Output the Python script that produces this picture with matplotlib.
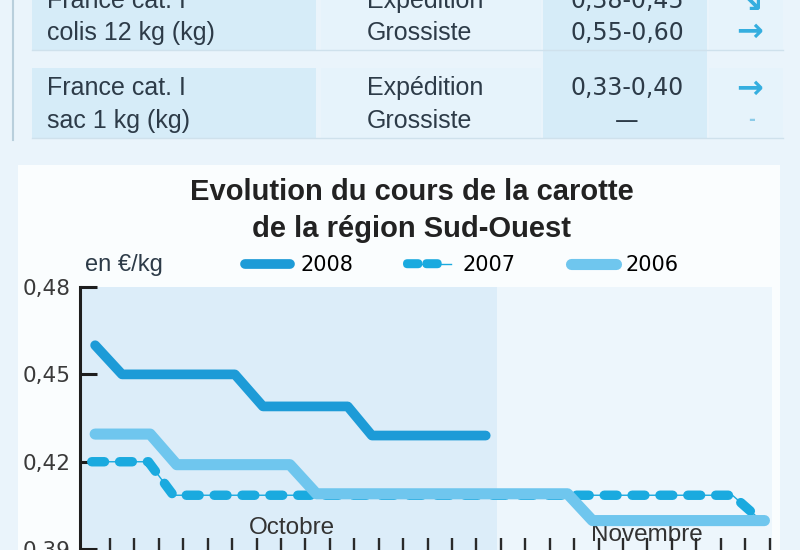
import matplotlib
matplotlib.use("Agg")
import matplotlib.pyplot as plt
from matplotlib.patches import Rectangle, FancyBboxPatch
from matplotlib.lines import Line2D
from matplotlib.legend_handler import HandlerBase

# ============================================================
# DATA
# ============================================================

table_products = [["France cat. I", "colis 12 kg (kg)"],
                  ["France cat. I", "sac 1 kg (kg)"]]
table_stages   = [["Expédition", "Grossiste"],
                  ["Expédition", "Grossiste"]]
table_prices   = [["0,38-0,45", "0,55-0,60"],
                  ["0,33-0,40", "—"]]
table_trends   = [["↘", "→"],
                  ["→", "-"]]

title_lines = ["Evolution du cours de la carotte", "de la région Sud-Ouest"]
unit_label  = "en €/kg"
months      = ["Octobre", "Novembre"]
month_edges = [-0.23, 16.83, 28.1]
day_ticks   = list(range(1, 29))
y_ticks     = [0.39, 0.42, 0.45, 0.48]
y_labels    = ["0,39", "0,42", "0,45", "0,48"]
series      = ["2008", "2007", "2006"]

x_2008 = [0.39, 1.49, 6.11, 7.26, 10.73, 11.72, 16.38]
y_2008 = [0.460, 0.450, 0.450, 0.439, 0.439, 0.429, 0.429]

x_2007 = [0.25, 2.57, 3.59, 26.48, 27.67]
y_2007 = [0.420, 0.420, 0.4085, 0.4085, 0.3997]

x_2006 = [0.39, 2.64, 3.73, 8.36, 9.45, 19.73, 20.75, 27.79]
y_2006 = [0.4295, 0.4295, 0.419, 0.419, 0.409, 0.409, 0.3998, 0.3998]

# ============================================================
# STYLE
# ============================================================

BG       = "#eaf4fb"
PANEL    = "#fafdfe"
CELL_A   = "#d6ecf8"
CELL_B   = "#e6f3fb"
OCT_BG   = "#dcedf9"
NOV_BG   = "#edf6fc"
INK      = "#2d3b48"
C2008    = "#1d9bd7"
C2007    = "#1aaadf"
C2006    = "#6fc6ee"
ARROW    = "#35aedf"

plt.rcParams["font.family"] = ["Liberation Sans", "DejaVu Sans"]

W, H = 800, 550

fig = plt.figure(figsize=(W / 100, H / 100), dpi=100)
fig.patch.set_facecolor(BG)

# pixel-space background layer (table + panel)
bg = fig.add_axes([0, 0, 1, 1])
bg.set_xlim(0, W)
bg.set_ylim(H, 0)
bg.axis("off")

# ---- price table ----
col_x    = [(32, 316), (321, 541), (543, 707), (709, 783)]
row_y    = [(-5, 50), (68, 138)]
baseline = [[8, 40], [95, 128]]
arrow_y  = [[3, 32], [89, 120]]

bg.plot([13, 13], [0, 140], color="#b9cfdc", lw=1.5)
for (y0, y1) in row_y:
    for k, (x0, x1) in enumerate(col_x):
        if k == 2:
            continue
        fc = CELL_A if k == 0 else CELL_B
        bg.add_patch(Rectangle((x0, y0), x1 - x0, y1 - y0, fc=fc, lw=0))
    bg.plot([col_x[0][0], col_x[-1][1]], [y1, y1], color="#cfe1ec", lw=1)
bg.add_patch(Rectangle((col_x[2][0], -5), col_x[2][1] - col_x[2][0], 143,
                       fc=CELL_A, lw=0))

for r in range(2):
    for j in range(2):
        yb = baseline[r][j]
        bg.text(47, yb, table_products[r][j], fontsize=18, color=INK, va="baseline")
        bg.text(367, yb, table_stages[r][j], fontsize=18, color=INK, va="baseline")
        bg.text(627, yb, table_prices[r][j], fontsize=17, color=INK, va="baseline",
                ha="center", family="DejaVu Sans")
        trend = table_trends[r][j]
        if trend == "-":
            bg.text(752, arrow_y[r][j], trend, fontsize=12, color="#8ccbe8",
                    va="center", ha="center", family="DejaVu Sans", weight="bold")
        else:
            bg.text(750, arrow_y[r][j], trend, fontsize=23, color=ARROW,
                    va="center", ha="center", family="DejaVu Sans", weight="bold")

# ---- chart panel ----
bg.add_patch(Rectangle((18, 165), 762, 390, fc=PANEL, lw=0))
bg.text(412, 200, title_lines[0], fontsize=21, weight="bold", color="#222222",
        ha="center", va="baseline")
bg.text(412, 237, title_lines[1], fontsize=21, weight="bold", color="#222222",
        ha="center", va="baseline")
bg.text(85, 265, unit_label, fontsize=17, color=INK, va="center")

# ============================================================
# CHART
# ============================================================

ax_left, ax_right, ax_top = 80, 772, 287
ax = fig.add_axes([ax_left / W, 0, (ax_right - ax_left) / W, (H - ax_top) / H])
ax.patch.set_alpha(0)
ax.set_xlim(month_edges[0], month_edges[-1])
ax.set_ylim(0.3897, 0.48)

for k, c in enumerate([OCT_BG, NOV_BG]):
    ax.axvspan(month_edges[k], month_edges[k + 1], color=c, lw=0, zorder=0)
label_x = [8.44, 22.96]
label_y = [0.061, 0.036]
for k, m in enumerate(months):
    ax.text(label_x[k], label_y[k], m, fontsize=17.5, color="#333333", ha="center",
            va="baseline", transform=ax.get_xaxis_transform(), zorder=1)

thin07, = ax.plot(x_2007, y_2007, color=C2007, lw=1.0, zorder=2)
dash07, = ax.plot(x_2007, y_2007, color=C2007, lw=6.8, dashes=(1.35, 1.6),
                  dash_capstyle="round", dash_joinstyle="round", zorder=2)
l06, = ax.plot(x_2006, y_2006, color=C2006, lw=8, solid_capstyle="round",
               solid_joinstyle="round", zorder=3)
l08, = ax.plot(x_2008, y_2008, color=C2008, lw=7, solid_capstyle="round",
               solid_joinstyle="round", zorder=4)

for s in ["top", "right", "bottom"]:
    ax.spines[s].set_visible(False)
ax.spines["left"].set_linewidth(2.2)
ax.spines["left"].set_color("#1e1e1e")

ax.set_yticks(y_ticks)
ax.set_yticklabels(y_labels, family="DejaVu Sans")
ax.tick_params(axis="y", direction="in", length=12, width=2.2, pad=7,
               labelsize=15.5, color="#1e1e1e", labelcolor="#3a3a3a")
ax.set_xticks(day_ticks)
ax.tick_params(axis="x", direction="in", length=8.6, width=1.7,
               color="#2a2a2a", labelbottom=False)


class BlobKey(HandlerBase):
    """2007 key: two linked pills on a thin line, as in the printed legend."""

    def create_artists(self, legend, orig_handle, xdescent, ydescent,
                       width, height, fontsize, trans):
        yc = height / 2 - ydescent
        x0 = -xdescent
        bh = 6.5
        bw = width * 0.43
        arts = [Line2D([x0, x0 + width * 0.95], [yc, yc], color=C2007, lw=1.0,
                       transform=trans)]
        for k in range(2):
            xs = x0 - 3.5 + k * bw
            arts.append(FancyBboxPatch((xs, yc - bh / 2), bw, bh,
                                       boxstyle=f"round,pad=0,rounding_size={bh / 2}",
                                       fc=C2007, lw=0, transform=trans))
        return arts


fig.legend(handles=[l08, dash07, l06], labels=series,
           handler_map={dash07: BlobKey()},
           loc="center left", bbox_to_anchor=(245 / W, 1 - 265 / H), ncol=3,
           frameon=False, prop={"family": "DejaVu Sans", "size": 15},
           handlelength=2.16, handletextpad=0.48, columnspacing=2.64,
           borderpad=0, borderaxespad=0)

fig.savefig("out.png", dpi=100, facecolor=BG)
